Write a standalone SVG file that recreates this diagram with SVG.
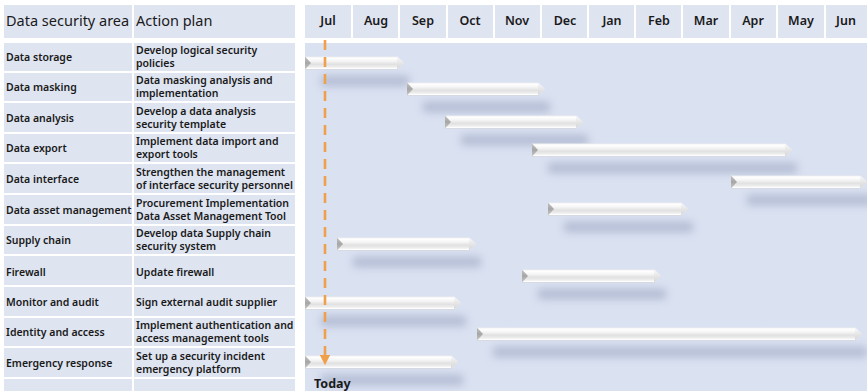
<svg xmlns="http://www.w3.org/2000/svg" width="867" height="391" viewBox="0 0 867 391">
<defs>
<style>
.cell{fill:#dfe4f1}
.gbg{fill:#dae1f1}
.hd{font-family:"Noto Sans","Open Sans",sans-serif;font-size:14.5px;fill:#1a1a1a}
.lb{font-family:"Noto Sans","Open Sans",sans-serif;font-size:10.5px;font-weight:600;fill:#1a1a1a}
.mo{font-family:"Noto Sans","Open Sans",sans-serif;font-size:12.5px;font-weight:600;fill:#1a1a1a;text-anchor:middle}
.today{font-family:"Noto Sans","Open Sans",sans-serif;font-size:12.5px;font-weight:700;fill:#1a1a1a}
.body{fill:url(#barg)}
.notch{fill:url(#notchg)}
.tip{fill:url(#tipg)}
.shadow{fill:#97a2bf;opacity:0.6;filter:url(#blur)}
</style>
<linearGradient id="barg" x1="0" y1="0" x2="0" y2="1">
<stop offset="0" stop-color="#ececec"/>
<stop offset="0.12" stop-color="#ffffff"/>
<stop offset="0.35" stop-color="#f5f5f5"/>
<stop offset="0.6" stop-color="#e1e1e1"/>
<stop offset="0.82" stop-color="#eeeeee"/>
<stop offset="0.92" stop-color="#ffffff"/>
<stop offset="1" stop-color="#d4d4d4"/>
</linearGradient>
<linearGradient id="notchg" x1="0" y1="0" x2="0" y2="1">
<stop offset="0" stop-color="#c4c4c4"/>
<stop offset="0.5" stop-color="#a6a6a6"/>
<stop offset="1" stop-color="#c8c8c8"/>
</linearGradient>
<linearGradient id="tipg" x1="0" y1="0" x2="0" y2="1">
<stop offset="0" stop-color="#f9f9f9"/>
<stop offset="0.5" stop-color="#e6e6e6"/>
<stop offset="1" stop-color="#d6d6d6"/>
</linearGradient>
<filter id="blur" x="-10%" y="-150%" width="120%" height="400%">
<feGaussianBlur stdDeviation="4.5"/>
</filter>
<marker id="arr" viewBox="0 0 10 10" refX="5" refY="5" markerWidth="4" markerHeight="4" orient="auto">
<path d="M0,0 L10,5 L0,10 Z" fill="#f0a04b"/>
</marker>
</defs>
<rect width="867" height="391" fill="#ffffff"/>

<g id="table-header">
<rect class="cell" x="4" y="5" width="128" height="33"/>
<rect class="cell" x="134" y="5" width="161" height="33"/>
<text class="hd" x="6" y="26">Data security area</text>
<text class="hd" x="136" y="26">Action plan</text>
</g>

<g id="timeline-header">
<rect class="gbg" x="305" y="43" width="562" height="348"/>
<rect class="cell" x="305" y="5" width="46" height="33"/>
<rect class="cell" x="353" y="5" width="45" height="33"/>
<rect class="cell" x="400" y="5" width="46" height="33"/>
<rect class="cell" x="448" y="5" width="45" height="33"/>
<rect class="cell" x="495" y="5" width="45" height="33"/>
<rect class="cell" x="542" y="5" width="45" height="33"/>
<rect class="cell" x="589" y="5" width="45" height="33"/>
<rect class="cell" x="636" y="5" width="45" height="33"/>
<rect class="cell" x="683" y="5" width="46" height="33"/>
<rect class="cell" x="731" y="5" width="45" height="33"/>
<rect class="cell" x="778" y="5" width="46" height="33"/>
<rect class="cell" x="826" y="5" width="41" height="33"/>
<text class="mo" x="328" y="25">Jul</text>
<text class="mo" x="376" y="25">Aug</text>
<text class="mo" x="423" y="25">Sep</text>
<text class="mo" x="470" y="25">Oct</text>
<text class="mo" x="517" y="25">Nov</text>
<text class="mo" x="565" y="25">Dec</text>
<text class="mo" x="612" y="25">Jan</text>
<text class="mo" x="659" y="25">Feb</text>
<text class="mo" x="706" y="25">Mar</text>
<text class="mo" x="753" y="25">Apr</text>
<text class="mo" x="801" y="25">May</text>
<text class="mo" x="846" y="25">Jun</text>
</g>

<g id="shadows">
<rect class="shadow" x="321" y="76" width="88" height="10"/>
<rect class="shadow" x="423" y="102" width="127" height="10"/>
<rect class="shadow" x="461" y="135" width="127" height="10"/>
<rect class="shadow" x="548" y="163" width="249" height="10"/>
<rect class="shadow" x="747" y="195" width="125" height="10"/>
<rect class="shadow" x="564" y="222" width="129" height="10"/>
<rect class="shadow" x="353" y="257" width="128" height="10"/>
<rect class="shadow" x="538" y="289" width="128" height="10"/>
<rect class="shadow" x="321" y="316" width="145" height="10"/>
<rect class="shadow" x="493" y="347" width="374" height="10"/>
<rect class="shadow" x="321" y="375" width="142" height="10"/>
</g>

<g id="row-data-storage">
<rect class="cell" x="4" y="43" width="128" height="28"/>
<rect class="cell" x="134" y="43" width="161" height="28"/>
<text class="lb" x="6" y="61">Data storage</text>
<text class="lb" x="136" y="54">Develop logical security</text>
<text class="lb" x="136" y="67">policies</text>
<path class="body" d="M305,56.5 L397,56.5 L404,63 L397,69.5 L305,69.5 Z"/>
<path class="tip" d="M397,56.5 L404,63 L397,69.5 Z"/>
<path class="notch" d="M305,56.5 L311,63 L305,69.5 Z"/>
</g>

<g id="row-data-masking">
<rect class="cell" x="4" y="73" width="128" height="28"/>
<rect class="cell" x="134" y="73" width="161" height="28"/>
<text class="lb" x="6" y="91">Data masking</text>
<text class="lb" x="136" y="84">Data masking analysis and</text>
<text class="lb" x="136" y="97">implementation</text>
<path class="body" d="M407,82.5 L538,82.5 L545,89 L538,95.5 L407,95.5 Z"/>
<path class="tip" d="M538,82.5 L545,89 L538,95.5 Z"/>
<path class="notch" d="M407,82.5 L413,89 L407,95.5 Z"/>
</g>

<g id="row-data-analysis">
<rect class="cell" x="4" y="103" width="128" height="29"/>
<rect class="cell" x="134" y="103" width="161" height="29"/>
<text class="lb" x="6" y="122">Data analysis</text>
<text class="lb" x="136" y="115">Develop a data analysis</text>
<text class="lb" x="136" y="128">security template</text>
<path class="body" d="M445,115.5 L576,115.5 L583,122 L576,128.5 L445,128.5 Z"/>
<path class="tip" d="M576,115.5 L583,122 L576,128.5 Z"/>
<path class="notch" d="M445,115.5 L451,122 L445,128.5 Z"/>
</g>

<g id="row-data-export">
<rect class="cell" x="4" y="134" width="128" height="28"/>
<rect class="cell" x="134" y="134" width="161" height="28"/>
<text class="lb" x="6" y="152">Data export</text>
<text class="lb" x="136" y="145">Implement data import and</text>
<text class="lb" x="136" y="158">export tools</text>
<path class="body" d="M532,143.5 L785,143.5 L792,150 L785,156.5 L532,156.5 Z"/>
<path class="tip" d="M785,143.5 L792,150 L785,156.5 Z"/>
<path class="notch" d="M532,143.5 L538,150 L532,156.5 Z"/>
</g>

<g id="row-data-interface">
<rect class="cell" x="4" y="164" width="128" height="29"/>
<rect class="cell" x="134" y="164" width="161" height="29"/>
<text class="lb" x="6" y="183">Data interface</text>
<text class="lb" x="136" y="176">Strengthen the management</text>
<text class="lb" x="136" y="189">of interface security personnel</text>
<path class="body" d="M731,175.5 L860,175.5 L867,182 L860,188.5 L731,188.5 Z"/>
<path class="tip" d="M860,175.5 L867,182 L860,188.5 Z"/>
<path class="notch" d="M731,175.5 L737,182 L731,188.5 Z"/>
</g>

<g id="row-data-asset-management">
<rect class="cell" x="4" y="195" width="128" height="29"/>
<rect class="cell" x="134" y="195" width="161" height="29"/>
<text class="lb" x="6" y="214">Data asset management</text>
<text class="lb" x="136" y="207">Procurement Implementation</text>
<text class="lb" x="136" y="220">Data Asset Management Tool</text>
<path class="body" d="M548,202.5 L681,202.5 L688,209 L681,215.5 L548,215.5 Z"/>
<path class="tip" d="M681,202.5 L688,209 L681,215.5 Z"/>
<path class="notch" d="M548,202.5 L554,209 L548,215.5 Z"/>
</g>

<g id="row-supply-chain">
<rect class="cell" x="4" y="226" width="128" height="28"/>
<rect class="cell" x="134" y="226" width="161" height="28"/>
<text class="lb" x="6" y="244">Supply chain</text>
<text class="lb" x="136" y="237">Develop data Supply chain</text>
<text class="lb" x="136" y="250">security system</text>
<path class="body" d="M337,237.5 L469,237.5 L476,244 L469,250.5 L337,250.5 Z"/>
<path class="tip" d="M469,237.5 L476,244 L469,250.5 Z"/>
<path class="notch" d="M337,237.5 L343,244 L337,250.5 Z"/>
</g>

<g id="row-firewall">
<rect class="cell" x="4" y="256" width="128" height="29"/>
<rect class="cell" x="134" y="256" width="161" height="29"/>
<text class="lb" x="6" y="276">Firewall</text>
<text class="lb" x="136" y="276">Update firewall</text>
<path class="body" d="M522,269.5 L654,269.5 L661,276 L654,282.5 L522,282.5 Z"/>
<path class="tip" d="M654,269.5 L661,276 L654,282.5 Z"/>
<path class="notch" d="M522,269.5 L528,276 L522,282.5 Z"/>
</g>

<g id="row-monitor-and-audit">
<rect class="cell" x="4" y="287" width="128" height="29"/>
<rect class="cell" x="134" y="287" width="161" height="29"/>
<text class="lb" x="6" y="306">Monitor and audit</text>
<text class="lb" x="136" y="306">Sign external audit supplier</text>
<path class="body" d="M305,296.5 L454,296.5 L461,303 L454,309.5 L305,309.5 Z"/>
<path class="tip" d="M454,296.5 L461,303 L454,309.5 Z"/>
<path class="notch" d="M305,296.5 L311,303 L305,309.5 Z"/>
</g>

<g id="row-identity-and-access">
<rect class="cell" x="4" y="318" width="128" height="28"/>
<rect class="cell" x="134" y="318" width="161" height="28"/>
<text class="lb" x="6" y="336">Identity and access</text>
<text class="lb" x="136" y="329">Implement authentication and</text>
<text class="lb" x="136" y="342">access management tools</text>
<path class="body" d="M477,327.5 L855,327.5 L862,334 L855,340.5 L477,340.5 Z"/>
<path class="tip" d="M855,327.5 L862,334 L855,340.5 Z"/>
<path class="notch" d="M477,327.5 L483,334 L477,340.5 Z"/>
</g>

<g id="row-emergency-response">
<rect class="cell" x="4" y="348" width="128" height="29"/>
<rect class="cell" x="134" y="348" width="161" height="29"/>
<text class="lb" x="6" y="367">Emergency response</text>
<text class="lb" x="136" y="360">Set up a security incident</text>
<text class="lb" x="136" y="373">emergency platform</text>
<path class="body" d="M305,355.5 L451,355.5 L458,362 L451,368.5 L305,368.5 Z"/>
<path class="tip" d="M451,355.5 L458,362 L451,368.5 Z"/>
<path class="notch" d="M305,355.5 L311,362 L305,368.5 Z"/>
</g>

<g id="row-empty">
<rect class="cell" x="4" y="379" width="128" height="12"/>
<rect class="cell" x="134" y="379" width="161" height="12"/>
</g>

<g id="connectors">
<line x1="325" y1="40" x2="325" y2="360" stroke="#f0a04b" stroke-width="2.6" stroke-dasharray="10,7" marker-end="url(#arr)"/>
<text class="today" x="314" y="388">Today</text>
</g>
</svg>
